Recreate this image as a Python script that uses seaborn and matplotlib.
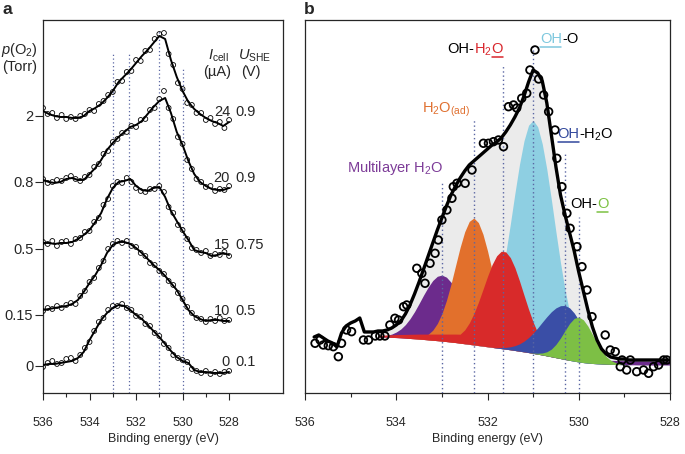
import numpy as np
import matplotlib.pyplot as plt
import matplotlib.transforms as mtransforms
from matplotlib.lines import Line2D
import seaborn as sns

# ---- panel a: O 1s spectra at different O2 pressures ----
e_line = np.linspace(536, 528, 33)
e_pts = np.linspace(536, 528, 41)
p_labels = ["0", "0.15", "0.5", "0.8", "2"]
p_offsets = [27, 78, 144, 211, 277]
i_cell = ["0", "10", "15", "20", "24"]
u_she = ["0.1", "0.5", "0.75", "0.9", "0.9"]

line_p0 = [1, 2, 2, 3, 4, 5, 8, 14, 26, 36, 46, 53, 58, 61, 60, 56, 51, 47, 41, 35, 29, 22, 15, 9, 5, 3, -4, -6, -6, -7, -7, -7, -6]
line_p015 = [5, 6, 7, 8, 9, 11, 15, 23, 32, 40, 50, 62, 70, 73, 73, 71, 67, 62, 56, 50, 45, 39, 32, 25, 15, 5, -1, -4, -6, -5, -5, -6, -6]
line_p05 = [6, 6, 5, 6, 6, 7, 10, 14, 19, 27, 36, 50, 61, 67, 68, 70, 63, 59, 58, 61, 62, 52, 38, 28, 18, 9, -1, -3, -4, -7, -6, -4, -6]
line_p08 = [2, 0, -1, 0, 3, 4, 2, 2, 8, 14, 22, 32, 39, 45, 50, 55, 57, 61, 68, 75, 81, 84, 69, 50, 37, 21, 8, 0, -4, -7, -8, -8, -6]
line_p2 = [5, 2, 0, -1, -1, -2, -2, 0, 5, 8, 12, 18, 25, 34, 40, 46, 53, 60, 66, 73, 80, 77, 56, 39, 25, 14, 7, 2, -2, -5, -7, -10, -6]

pts_p0 = [-1, 3, 5, 2, 3, 7, 8, 5, 11, 18, 24, 35, 44, 48, 56, 60, 60, 62, 58, 56, 50, 49, 42, 40, 33, 30, 22, 18, 11, 8, 6, 4, -3, -5, -7, -5, -8, -6, -8, -6, -5]
pts_p015 = [4, 7, 6, 9, 7, 10, 12, 11, 19, 24, 33, 37, 47, 54, 66, 71, 74, 72, 74, 69, 68, 62, 59, 52, 50, 44, 41, 34, 30, 22, 16, 8, 2, -3, -4, -7, -4, -6, -3, -6, -5]
pts_p05 = [7, 5, 8, 3, 7, 8, 5, 10, 11, 17, 18, 27, 31, 44, 50, 63, 67, 66, 71, 67, 61, 58, 57, 60, 60, 63, 57, 42, 36, 24, 19, 10, 1, -1, -4, -2, -7, -5, -6, -3, -7]
pts_p08 = [3, -1, 0, 2, 1, 4, 6, 3, 1, 5, 7, 15, 18, 28, 31, 40, 43, 49, 50, 56, 55, 62, 63, 72, 74, 83, 91, 74, 63, 45, 38, 22, 13, 3, 0, -5, -4, -9, -7, -8, -4]
pts_p2 = [8, 2, 3, -2, 1, -3, -1, -3, 0, 2, 6, 5, 12, 15, 21, 24, 34, 35, 44, 45, 56, 55, 65, 66, 77, 82, 83, 62, 51, 33, 27, 13, 11, 3, 3, -4, -2, -8, -6, -12, -4]

a_peaks = [533.0, 532.3, 531.0, 530.0]
a_tops = [341, 341, 363, 325]

# ---- panel b: peak fit of the 2 Torr spectrum ----
e_full = np.linspace(535.8, 528.0, 79)
e_fit = e_full[14:]

envelope = [56, 58, 55, 52, 50, 46, 60, 67, 70, 72,
            75, 61, 61, 61, 62, 62, 63, 65, 68, 72,
            79, 88, 99, 111, 124, 137, 150, 163, 175, 187,
            198, 207, 215, 222, 228, 232, 236, 240, 244, 248,
            251, 255, 261, 268, 276, 285, 297, 311, 323, 320,
            312, 290, 258, 226, 198, 178, 160, 142, 121, 102,
            83, 66, 53, 44, 39, 36, 35, 34, 34, 33,
            33, 33, 33, 33, 33, 33, 33, 33, 33]

background = [56, 56, 55.8, 55.6, 55.4, 55.1, 54.8, 54.5, 54.2, 53.9,
              53.5, 53.1, 52.7, 52.3, 51.9, 51.4, 50.9, 50.4, 49.8, 49.2,
              48.6, 48.0, 47.4, 46.8, 46.2, 45.6, 45.0, 44.4, 43.8, 43.2,
              42.5, 41.8, 41.1, 40.4, 39.6, 38.8, 38.0, 37.1, 36.2, 35.3,
              34.4, 33.5, 32.6, 31.8, 31.0, 30.4, 29.9, 29.5, 29.2, 29.0,
              28.8, 28.6, 28.5, 28.4, 28.3, 28.2, 28.2, 28.1, 28.1, 28,
              28, 28, 28, 28, 28]

multilayer = [0.5, 1.0, 1.9, 3.3, 5.6, 8.9, 13.6, 19.7, 27.1, 35.6,
              44.5, 52.8, 59.8, 64.4, 66, 64.4, 59.8, 52.8, 44.5, 35.6,
              27.1, 19.7, 13.6, 8.9, 5.6, 4, 4, 4, 4, 4,
              4, 4, 4, 4, 4, 4, 4, 4, 4, 4,
              4, 4, 4, 4, 4, 4, 4, 4, 4, 4,
              4, 4, 4, 4, 4, 4, 4, 4, 4, 4,
              4, 4, 4, 4, 4]
h2o_ad = [0, 0, 0, 0, 0, 0, 0, 0.2, 0.6, 1.4,
          2.9, 5.6, 10.1, 17.2, 27.4, 41.2, 58.1, 77.0, 95.9, 112,
          123, 127, 123, 112, 95.9, 77.0, 58.1, 41.2, 27.4, 17.2,
          10.1, 5.6, 2.9, 1.4, 0.6, 0.2, 0, 0, 0, 0,
          0, 0, 0, 0, 0, 0, 0, 0, 0, 0,
          0, 0, 0, 0, 0, 0, 0, 0, 0, 0,
          0, 0, 0, 0, 0]
oh_h2o_o = [1.4, 1.8, 2.2, 2.6, 3.0, 3.4, 3.8, 4.2, 4.6, 5.0,
            5.4, 5.8, 6.2, 6.6, 7.0, 7.5, 8.0, 8.5, 9.0, 13.9,
            21.4, 31.3, 43.3, 56.7, 70.4, 82.8, 92.2, 97.3, 97.3, 92.2,
            82.8, 70.4, 56.7, 43.3, 31.3, 21.4, 13.9, 8.5, 5.0, 2.7,
            1.4, 0.7, 0, 0, 0, 0, 0, 0, 0, 0,
            0, 0, 0, 0, 0, 0, 0, 0, 0, 0,
            0, 0, 0, 0, 0]
oh_o = [0, 0, 0, 0, 0, 0, 0, 0, 0, 0,
        0, 0, 0, 0, 0, 0, 0, 0, 0, 0,
        1.9, 3.6, 6.6, 11.7, 19.8, 31.5, 48.0, 69.4, 95.8, 125.6,
        157.0, 186.6, 211.1, 227.4, 233, 227.4, 211.1, 186.6, 157.0, 125.6,
        95.8, 69.4, 48.0, 31.5, 19.8, 11.7, 6.6, 3.6, 1.9, 0,
        0, 0, 0, 0, 0, 0, 0, 0, 0, 0,
        0, 0, 0, 0, 0]
oh_h2o = [0, 0, 0, 0, 0, 0, 0, 0, 0, 0,
          0, 0, 0, 0, 0, 0, 0, 0, 0, 0,
          0, 0, 0, 0, 0, 0, 0.5, 1.0, 1.8, 3.0,
          4.8, 7.3, 10.7, 15.0, 20.3, 26.3, 32.8, 39.2, 45.1, 49.8,
          52.9, 54, 52.5, 48.2, 41.9, 34.3, 26.6, 19.4, 13.4, 8.8,
          5.4, 3.2, 1.7, 0.9, 0.5, 0, 0, 0, 0, 0,
          0, 0, 0, 0, 0]
oh_o_lattice = [0, 0, 0, 0, 0, 0, 0, 0, 0, 0,
                0, 0, 0, 0, 0, 0, 0, 0, 0, 0,
                0, 0, 0, 0, 0, 0, 0, 0, 0, 0,
                0, 0, 0, 0, 0.3, 0.9, 2.0, 4.1, 7.7, 13.3,
                20.6, 29.0, 37.0, 42.8, 45, 42.8, 37.0, 29.0, 20.6, 13.3,
                7.7, 4.1, 2.0, 0.9, 0.3, 0, 0, 0, 0, 0,
                0, 0, 0, 0, 0]

b_energy = [535.78, 535.67, 535.6, 535.49, 535.38, 535.27, 535.2, 535.09, 534.98, 534.72,
            534.61, 534.46, 534.36, 534.25, 534.14, 534.03, 533.95, 533.84, 533.77, 533.55,
            533.44, 533.37, 533.26, 533.15, 533.08, 533.0, 532.89, 532.78, 532.75, 532.67,
            532.49, 532.34, 532.09, 531.98, 531.87, 531.76, 531.65, 531.54, 531.43, 531.36,
            531.25, 531.14, 531.07, 530.96, 530.88, 530.77, 530.66, 530.52, 530.48, 530.37,
            530.26, 530.19, 530.04, 529.93, 529.82, 529.71, 529.42, 529.31, 529.2, 529.09,
            529.05, 528.95, 528.87, 528.73, 528.58, 528.47, 528.36, 528.25, 528.14, 528.07]
b_counts = [49.7, 53, 48, 47.3, 46.3, 36.3, 49.7, 63, 61.3, 53,
            53, 57, 57, 57, 68, 74.7, 73, 86.3, 88, 124.7,
            119.7, 109.7, 129.7, 139.7, 153, 173, 183, 194.7, 206.3, 209.7,
            209.7, 223, 249.7, 249.7, 251.3, 253, 246.3, 286.3, 288, 285,
            294.7, 299.7, 323, 343, 314, 298, 281.3, 263, 234.7, 206.3,
            179.7, 164.7, 146.3, 126.3, 103, 76.3, 58, 43, 41.3, 26.3,
            33, 23, 33, 21.3, 23, 19.7, 26.3, 28, 33, 33]

b_peaks = [533.0, 532.3, 531.65, 531.0, 530.3, 530.0]
b_tops = [211, 275, 328, 350, 241, 176]

purple, orange, red = "#6c2b8c", "#e2702c", "#d82a2a"
cyan, blue, green = "#8ecfe2", "#3a4ea6", "#7dbf45"
dot_color = "#5a66a3"

sns.set_theme(style="ticks")
plt.rcParams["font.family"] = ["Liberation Sans", "DejaVu Sans"]
plt.rcParams["mathtext.fontset"] = "custom"
plt.rcParams["mathtext.rm"] = "Liberation Sans"
plt.rcParams["mathtext.it"] = "Liberation Sans:italic"
plt.rcParams["axes.linewidth"] = 0.9

fig = plt.figure(figsize=(6.85, 4.54), dpi=100)
ax1 = fig.add_axes([0.0628, 0.1344, 0.3504, 0.8216])
ax2 = fig.add_axes([0.4453, 0.1344, 0.5328, 0.8216])

# panel a
lines = [line_p0, line_p015, line_p05, line_p08, line_p2]
points = [pts_p0, pts_p015, pts_p05, pts_p08, pts_p2]
ax1.vlines(a_peaks, 0, a_tops, colors=dot_color, linestyles=(0, (1, 2)), lw=0.9)
for off, ln, pt in zip(p_offsets, lines, points):
    sns.scatterplot(x=e_pts, y=np.array(pt) + off, ax=ax1, marker="o", s=12,
                    facecolors="none", edgecolor="black", linewidth=0.6, zorder=3)
    sns.lineplot(x=e_line, y=np.array(ln) + off, ax=ax1, color="black", lw=1.4,
                 estimator=None, sort=False, zorder=4)
for off, i, u in zip(p_offsets, i_cell, u_she):
    ax1.text(527.96, off + 4, i, ha="right", va="center", fontsize=10.5)
    ax1.text(527.74, off + 4, u, ha="left", va="center", fontsize=10.5)
ax1.text(528.47, 337, r"$I_{\rm cell}$", ha="center", va="center", fontsize=10.5)
ax1.text(528.5, 321, "(µA)", ha="center", va="center", fontsize=10.5)
ax1.text(526.92, 337, r"$U_{\rm SHE}$", ha="center", va="center", fontsize=10.5)
ax1.text(527.05, 321, "(V)", ha="center", va="center", fontsize=10.5)
fig.text(0.029, 0.89, r"$p$(O$_2$)", ha="center", va="center", fontsize=10.5)
fig.text(0.029, 0.852, "(Torr)", ha="center", va="center", fontsize=10.5)

ax1.set_xlim(536, 525.68)
ax1.set_ylim(0, 373)
ax1.set_xticks([536, 534, 532, 530, 528])
ax1.set_xticks([535, 533, 531, 529], minor=True)
ax1.set_yticks(p_offsets, p_labels)
ax1.tick_params(axis="y", direction="out", length=5.5, width=0.8, labelsize=10.5, pad=1.5)
ax1.tick_params(axis="x", which="major", direction="out", length=5, width=0.8, labelsize=9, pad=12)
ax1.tick_params(axis="x", which="minor", direction="out", length=3, width=0.8)
ax1.set_xlabel("Binding energy (eV)", fontsize=9, labelpad=3)
ax1.set_ylabel("")

# panel b
bg = np.array(background)
env = np.array(envelope)
ax2.fill_between(e_fit, bg, env[14:], color="#ebebeb", lw=0, zorder=1)
for comp, col in [(multilayer, purple), (h2o_ad, orange), (oh_o, cyan),
                  (oh_h2o_o, red), (oh_h2o, blue), (oh_o_lattice, green)]:
    ax2.fill_between(e_fit, bg, bg + np.array(comp), color=col, lw=0, zorder=2)
ax2.vlines(b_peaks, 0, b_tops, colors=dot_color, linestyles=(0, (1, 2)), lw=1.0, zorder=3)
sns.lineplot(x=e_full, y=env, ax=ax2, color="black", lw=2.4, estimator=None, sort=False, zorder=4)
sns.scatterplot(x=b_energy, y=b_counts, ax=ax2, marker="o", s=30, facecolors="none",
                edgecolor="black", linewidth=1.3, zorder=5)

ax2.set_xlim(536, 528)
ax2.set_ylim(0, 373)
ax2.set_xticks([536, 534, 532, 530, 528])
ax2.set_xticks([535, 533, 531, 529], minor=True)
ax2.set_yticks([])
ax2.tick_params(axis="x", which="major", direction="out", length=5, width=0.8, labelsize=9, pad=12)
ax2.tick_params(axis="x", which="minor", direction="out", length=3, width=0.8)
ax2.set_xlabel("Binding energy (eV)", fontsize=9, labelpad=3)
ax2.set_ylabel("")


def colored_label(ax, x, y, parts, size=10.5):
    renderer = fig.canvas.get_renderer()
    base_y = ax.transData.transform((x, y))[1]
    trans = ax.transData
    for text, color, underline in parts:
        t = ax.text(x, y, text, color=color, fontsize=size, transform=trans, va="baseline", zorder=6)
        bb = t.get_window_extent(renderer=renderer)
        if underline:
            fig.add_artist(Line2D([bb.x0 + 0.5, bb.x1 - 0.5], [base_y - 3.5, base_y - 3.5],
                                  transform=mtransforms.IdentityTransform(), color=color, lw=1.1))
        trans = mtransforms.offset_copy(t.get_transform(), x=bb.width, units="dots")


ax2.text(535.08, 220.5, "Multilayer H$_2$O", color="#7d3c98", fontsize=10.5, va="baseline")
ax2.text(533.43, 280.5, r"H$_2$O$_{\rm (ad)}$", color="#e07030", fontsize=10.5, va="baseline")
colored_label(ax2, 532.89, 339.5, [("OH-", "black", False), ("H$_2$", "#d9262c", False), ("O", "#d9262c", True)])
colored_label(ax2, 530.85, 349.5, [("OH", "#7ec8de", True), ("-O", "black", False)])
colored_label(ax2, 530.47, 254.5, [("OH", "#32489c", True), ("-H$_2$O", "black", False)])
colored_label(ax2, 530.19, 184.5, [("OH-", "black", False), ("O", "#7cc142", True)])

fig.text(0.004, 0.995, "a", fontsize=12.5, weight="bold", va="top", ha="left")
fig.text(0.444, 0.995, "b", fontsize=12.5, weight="bold", va="top", ha="left")

fig.savefig("out.png", dpi=100)
